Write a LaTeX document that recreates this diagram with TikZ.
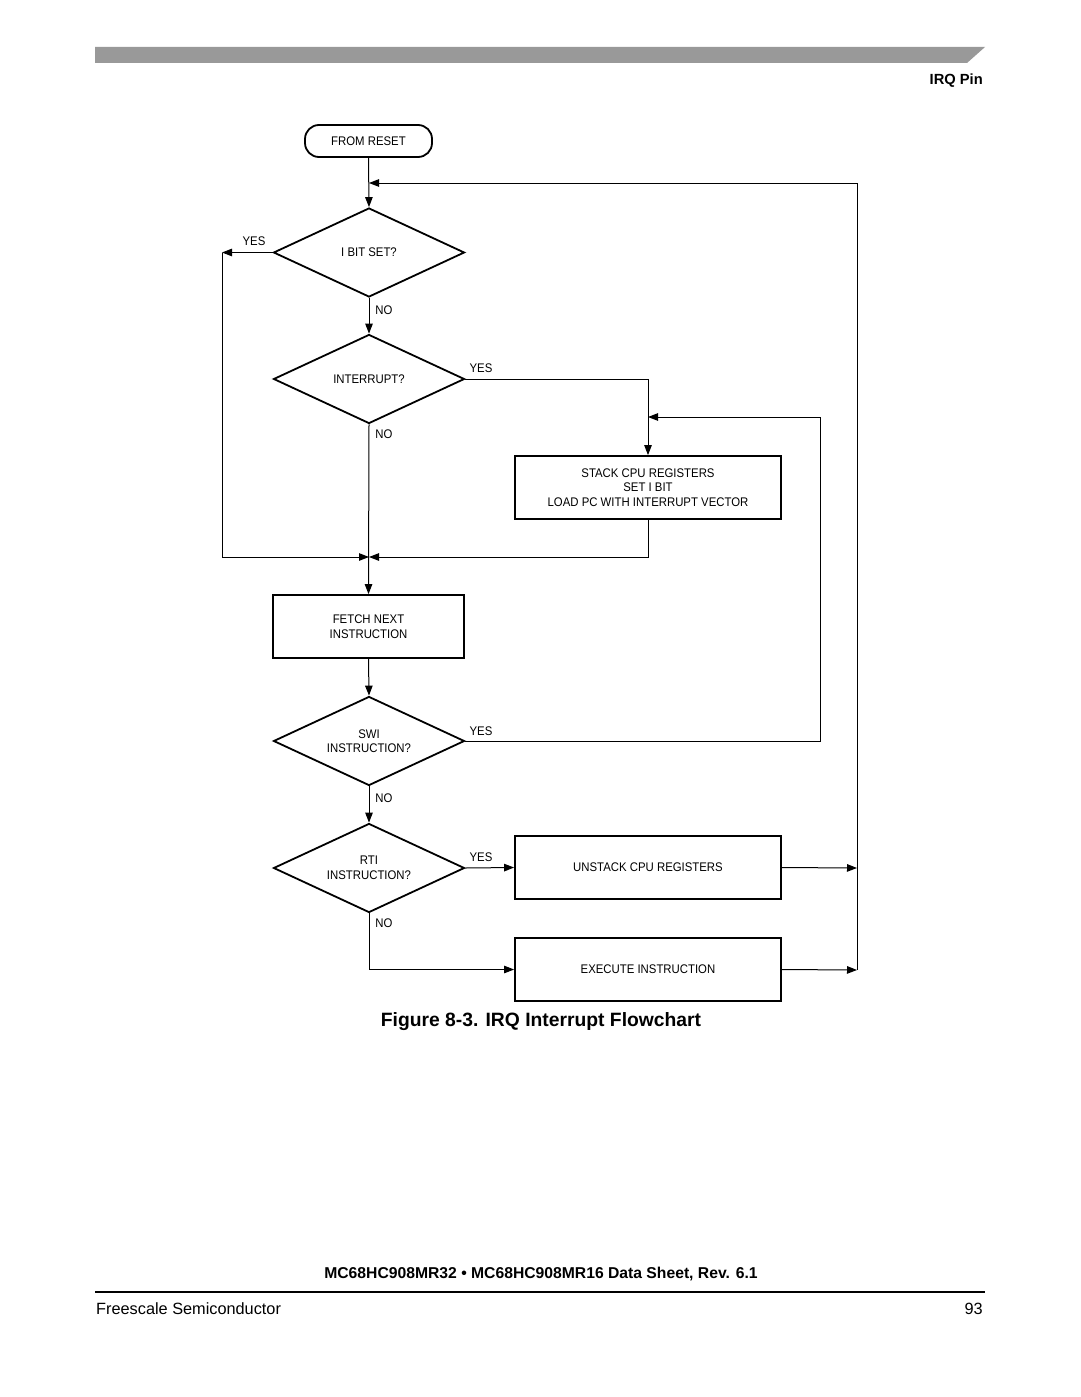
\documentclass[tikz,border=0pt]{standalone}
\usepackage{fontspec}
\setmainfont{Liberation Sans}
\newfontfamily\nodefont{Liberation Sans}[FakeStretch=0.91]
\usetikzlibrary{shapes.geometric,arrows.meta}
\begin{document}
\begin{tikzpicture}[x=1pt,y=-1pt,
  nf/.style={font=\nodefont\fontsize{12.5}{14.5}\selectfont},
  lbl/.style={nf, inner sep=0pt},
  procbox/.style={nf, draw, line width=1.8pt, rectangle, minimum width=266pt, minimum height=63pt, inner sep=0pt, align=center},
  decision/.style={nf, draw, line width=1.8pt, diamond, aspect=2.15, minimum width=191pt, minimum height=89pt, inner sep=0pt, align=center},
  conn/.style={line width=1pt},
  arr/.style={conn, -{Triangle[length=10pt,width=7.5pt]}},
]
\useasboundingbox (0,0) rectangle (1080,1397);
\fill[white] (0,0) rectangle (1080,1397);
% header
\fill[black!40] (95,47) -- (985,47) -- (967,63) -- (95,63) -- cycle;
\node[anchor=east, font=\fontsize{14.7}{16}\selectfont\bfseries, inner sep=0pt] (hdr) at (983,81) {IRQ Pin};

% nodes
\node[nf, draw, line width=1.8pt, rounded corners=14pt, minimum width=127pt, minimum height=32pt, inner sep=0pt] (reset) at (368.5,141) {FROM RESET};
\node[decision] (ibit) at (369,252.5) {I BIT SET?};
\node[decision] (intr) at (369,379) {INTERRUPT?};
\node[procbox] (stack) at (648,487.5) {STACK CPU REGISTERS\\SET I BIT\\LOAD PC WITH INTERRUPT VECTOR};
\node[procbox, minimum width=191pt] (fetch) at (368.5,626.5) {FETCH NEXT\\INSTRUCTION};
\node[decision] (swi) at (369,741) {SWI\\INSTRUCTION?};
\node[decision] (rti) at (369,868) {RTI\\INSTRUCTION?};
\node[procbox] (unstack) at (648,867.5) {UNSTACK CPU REGISTERS};
\node[procbox] (exec) at (648,969.5) {EXECUTE INSTRUCTION};

% helper coordinates
\coordinate (rtop) at (857,183);
\coordinate (rbot) at (857,970);
\coordinate (rmid) at (857,868);
\coordinate (mtop) at (369,183);
\coordinate (lft) at (222,252.5);
\coordinate (join) at (369,557);
\coordinate (swiR) at (820,417);
\coordinate (stackin) at (648,417);

% connectors
\draw[arr] (reset.south) -- (ibit.north);
\draw[arr] (rbot) -- (rtop) -- (mtop);
\draw[arr] (ibit.west) -- (lft);
\draw[arr] (lft) |- (join);
\draw[arr] (ibit.south) -- (intr.north);
\draw[arr] (intr.east) -| (stack.north);
\draw[arr] (swi.east) -| (swiR) -- (stackin);
\draw[arr] (stack.south) |- (join);
\draw[arr] (intr.south) -- (fetch.north);
\draw[arr] (fetch.south) -- (swi.north);
\draw[arr] (swi.south) -- (rti.north);
\draw[arr] (rti.east) -- (unstack.west);
\draw[arr] (rti.south) |- (exec.west);
\draw[arr] (unstack.east) -- (rmid);
\draw[arr] (exec.east) -- (rbot);

% labels
\node[lbl] (l1) at (254,241.5) {YES};
\node[lbl] (l2) at (384,310) {NO};
\node[lbl] (l3) at (481,368.5) {YES};
\node[lbl] (l4) at (384,434) {NO};
\node[lbl] (l5) at (481,731) {YES};
\node[lbl] (l6) at (384,798) {NO};
\node[lbl] (l7) at (481,857.5) {YES};
\node[lbl] (l8) at (384,923) {NO};

% caption and footer
\node[font=\fontsize{19.3}{22}\selectfont\bfseries, inner sep=0pt] (cap) at (541,1022) {Figure 8-3. IRQ Interrupt Flowchart};
\node[font=\fontsize{15.7}{18}\selectfont\bfseries, inner sep=0pt] (foot) at (541,1274) {MC68HC908MR32 • MC68HC908MR16 Data Sheet, Rev. 6.1};
\draw[line width=1.4pt] (95,1292) -- (985,1292);
\node[anchor=west, font=\fontsize{16.3}{18}\selectfont, inner sep=0pt] (fs) at (96,1308.5) {Freescale Semiconductor};
\node[anchor=east, font=\fontsize{16.3}{18}\selectfont, inner sep=0pt] (pg) at (983,1308.5) {93};
\end{tikzpicture}
\end{document}
